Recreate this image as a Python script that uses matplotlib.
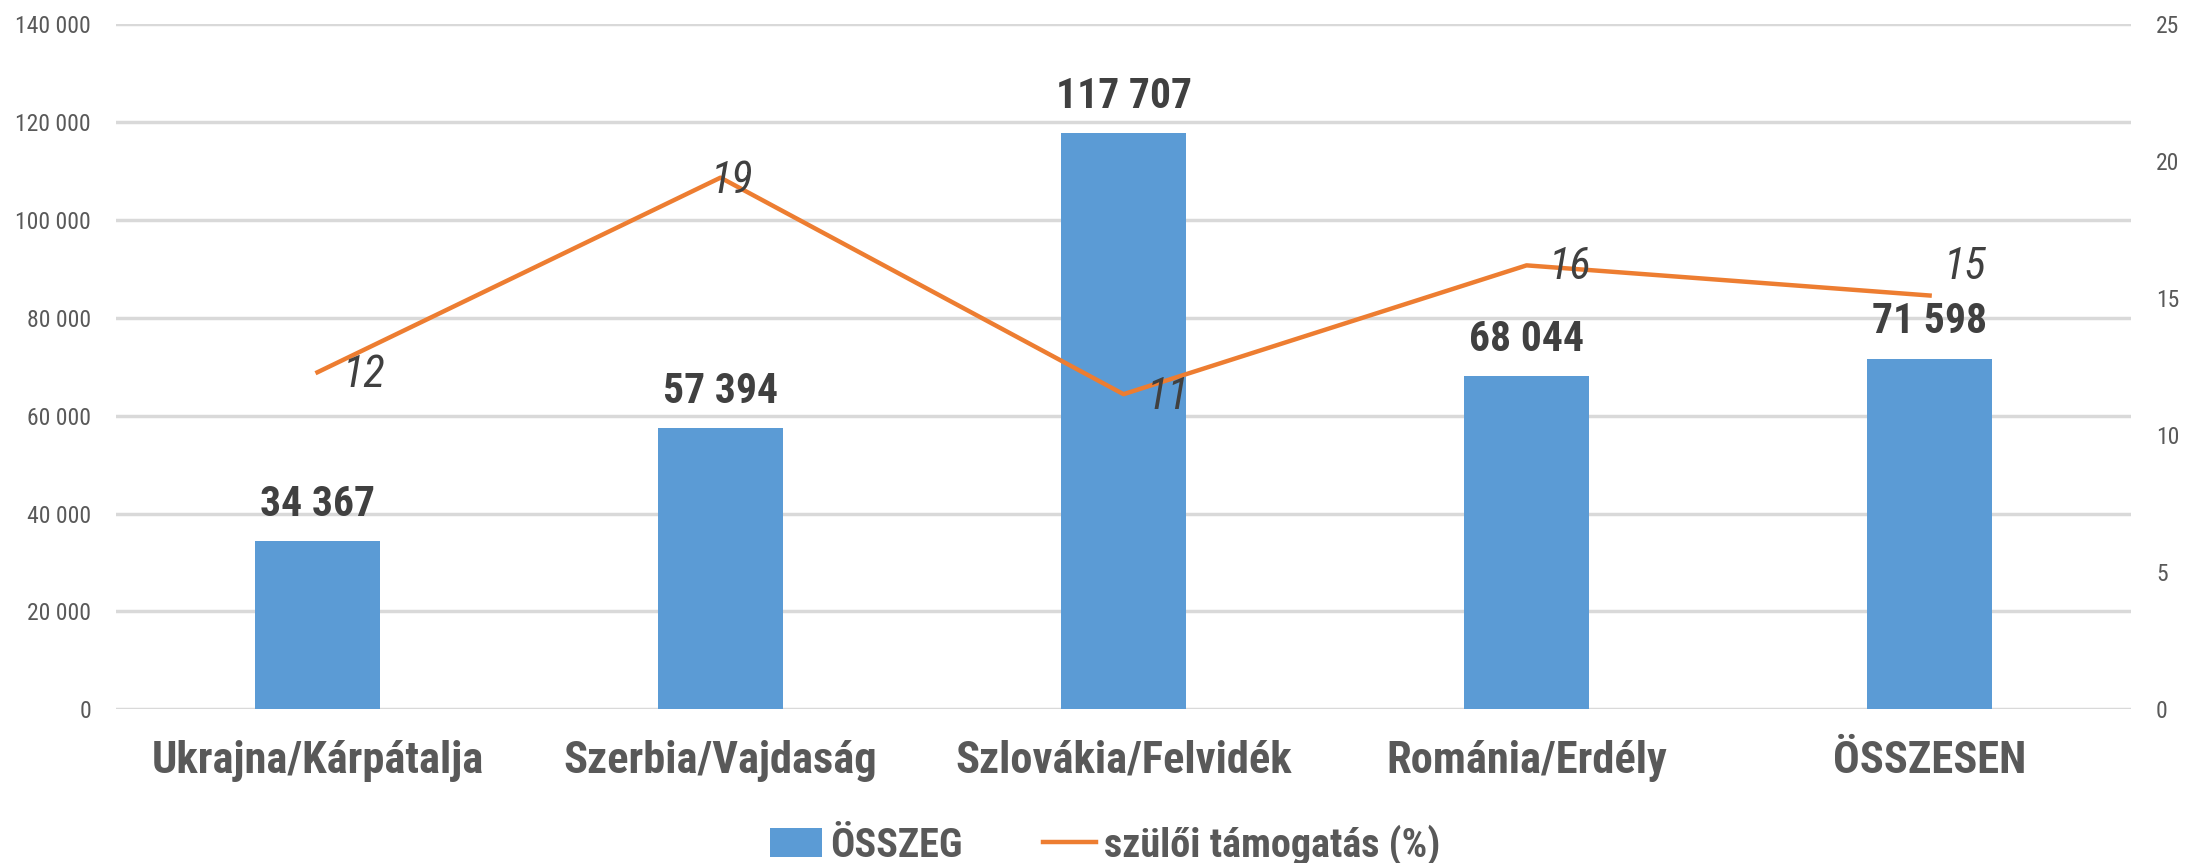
import matplotlib
matplotlib.use('Agg')
import matplotlib.pyplot as plt
from matplotlib import font_manager
from matplotlib.ticker import FuncFormatter

# data
regions = ['Ukrajna/Kárpátalja', 'Szerbia/Vajdaság', 'Szlovákia/Felvidék', 'Románia/Erdély', 'ÖSSZESEN']
osszeg = [34367, 57394, 117707, 68044, 71598]
tamogatas = [12.3, 19.4, 11.5, 16.2, 15.1]
tamogatas_labels = ['12', '19', '11', '16', '15']

# label offsets (points) for the italic line labels
line_lbl_offsets = [(18, -2), (-7, -2), (17, -2), (16, -1), (10, 21)]

names = {f.name for f in font_manager.fontManager.ttflist}
font = 'DejaVu Sans'
for cand in ['Liberation Sans Narrow', 'Roboto Condensed', 'Roboto', 'Liberation Sans']:
    if cand in names:
        font = cand
        break
plt.rcParams['font.family'] = [font, 'DejaVu Sans']

BLUE = '#5B9BD5'
ORANGE = '#ED7D31'
DARK = '#404040'
GREY = '#595959'

fig = plt.figure(figsize=(21.88, 8.63), dpi=100)
ax = fig.add_axes([0.053, 0.178, 0.921, 0.794])
ax2 = ax.twinx()

x = list(range(len(regions)))
bars = ax.bar(x, osszeg, width=0.31, color=BLUE, label='ÖSSZEG', zorder=2)
ax.set_ylim(0, 140000)
ax.set_yticks(range(0, 140001, 20000))
ax.yaxis.set_major_formatter(FuncFormatter(lambda v, p: '{:,}'.format(int(v)).replace(',', ' ')))
ax.set_xlim(-0.5, len(regions) - 0.5)
ax.set_xticks(x)
ax.set_xticklabels(regions, fontsize=32, fontweight='bold', color=GREY)
ax.grid(axis='y', color='#D9D9D9', linewidth=2.5, zorder=0)
ax.set_axisbelow(True)
ax.tick_params(axis='y', length=0, labelsize=17, labelcolor=GREY, pad=18)
ax.tick_params(axis='x', length=0, pad=22)
for s in ax.spines.values():
    s.set_visible(False)

for b, v in zip(bars, osszeg):
    ax.annotate('{:,}'.format(v).replace(',', ' '), (b.get_x() + b.get_width() / 2, v),
                xytext=(0, 12), textcoords='offset points', ha='center', va='bottom',
                fontsize=30, fontweight='bold', color=DARK)

line, = ax2.plot(x, tamogatas, color=ORANGE, linewidth=3.2, label='szülői támogatás (%)', zorder=3)
ax2.set_ylim(0, 25)
ax2.set_yticks(range(0, 26, 5))
ax2.tick_params(axis='y', length=0, labelsize=17, labelcolor=GREY, pad=18)
for s in ax2.spines.values():
    s.set_visible(False)

for xi, v, t, off in zip(x, tamogatas, tamogatas_labels, line_lbl_offsets):
    ax2.annotate(t, (xi, v), xytext=off, textcoords='offset points', ha='left', va='center',
                 fontsize=32, fontstyle='italic', color=DARK)

fig.legend([bars, line], ['ÖSSZEG', 'szülői támogatás (%)'], loc='lower center',
           bbox_to_anchor=(0.505, -0.045), ncol=2, frameon=False,
           prop={'size': 29, 'weight': 'bold'}, labelcolor=GREY,
           handlelength=1.3, handletextpad=0.2, columnspacing=2.0)

fig.savefig('out.png', dpi=100)
